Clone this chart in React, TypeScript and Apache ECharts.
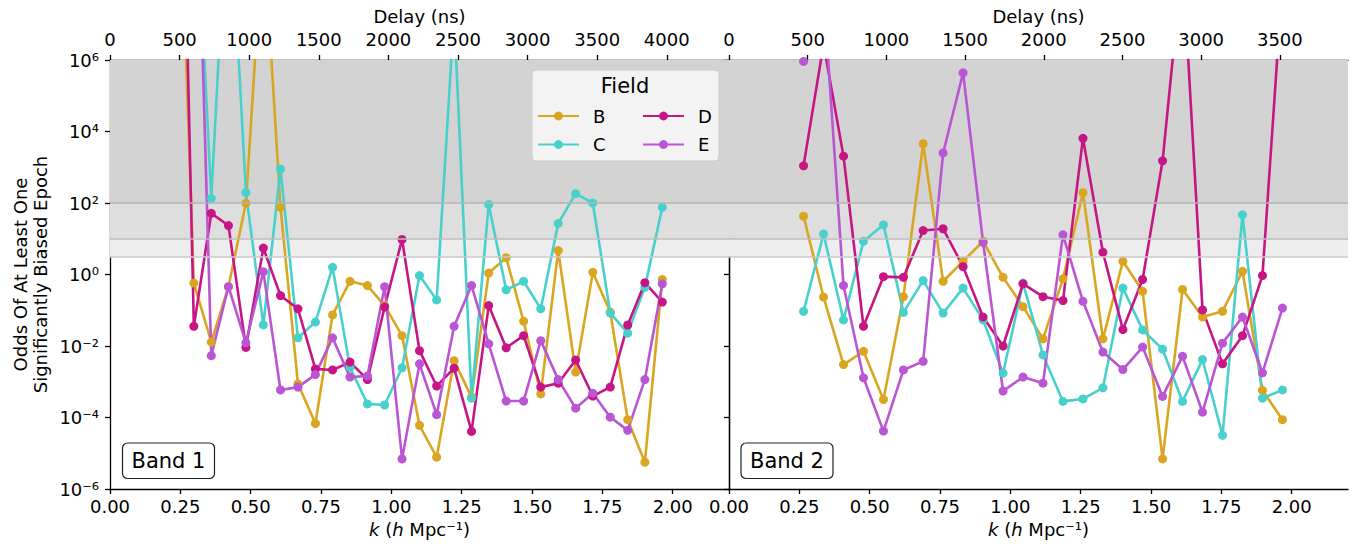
import React, { useEffect, useRef } from 'react';
import * as echarts from 'echarts';

const FONT = 'DejaVu Sans';

const FIELDS = ['B', 'C', 'D', 'E'];
const COLORS: Record<string, string> = { B: '#DAA520', C: '#48D1CC', D: '#C71585', E: '#BA55D3' };

// Band 1: k values (h Mpc^-1) and log10(odds) per field
const kBand1 = [0.236, 0.298, 0.360, 0.421, 0.483, 0.545, 0.606, 0.668, 0.730, 0.791, 0.853, 0.915, 0.976, 1.038, 1.100, 1.161, 1.223, 1.285, 1.346, 1.408, 1.470, 1.531, 1.593, 1.655, 1.716, 1.778, 1.840, 1.901, 1.963];
const logB1 = [13.9, -0.24, -1.89, -0.34, 1.99, 9.7, 1.88, -3.06, -4.17, -1.13, -0.19, -0.31, -0.87, -1.71, -4.22, -5.11, -2.41, -3.43, 0.04, 0.47, -1.31, -3.34, 0.67, -2.73, 0.06, -1.05, -4.06, -5.25, -0.14];
const logC1 = [null, 12, 2.13, 11.3, 2.3, -1.41, 2.95, -1.77, -1.33, 0.2, -2.6, -3.62, -3.65, -2.61, -0.03, -0.71, 7.3, -3.46, 1.96, -0.43, -0.19, -0.96, 1.43, 2.26, 2.0, -1.08, -1.64, -0.36, 1.88];
const logD1 = [20, -1.45, 1.71, 1.37, -2.04, 0.74, -0.59, -0.96, -2.64, -2.67, -2.45, -2.94, -0.91, 0.98, -2.13, -3.12, -2.62, -4.39, -0.87, -2.05, -1.71, -3.15, -3.04, -2.39, -3.4, -3.15, -1.41, -0.23, -0.77];
const logE1 = [null, 14.6, -2.27, -0.34, -1.91, 0.08, -3.23, -3.15, -2.8, -1.77, -2.87, -2.84, -0.34, -5.16, -2.5, -3.92, -1.45, -0.31, -1.94, -3.54, -3.54, -1.85, -2.94, -3.74, -3.32, -3.99, -4.36, -2.94, -0.26];

// Band 2
const kBand2 = [0.265, 0.336, 0.407, 0.478, 0.549, 0.620, 0.690, 0.761, 0.832, 0.903, 0.974, 1.045, 1.116, 1.187, 1.258, 1.329, 1.400, 1.470, 1.541, 1.612, 1.683, 1.754, 1.825, 1.896, 1.967];
const logB2 = [1.63, -0.63, -2.52, -2.15, -3.5, -0.62, 3.66, -0.19, 0.37, 0.93, -0.08, -0.9, -1.8, -0.12, 2.29, -1.8, 0.37, -0.47, -5.16, -0.42, -1.19, -1.03, 0.09, -3.24, -4.06];
const logC2 = [-1.03, 1.13, -1.27, 0.93, 1.39, -1.06, -0.17, -1.08, -0.38, -1.27, -2.76, -0.24, -2.25, -3.55, -3.48, -3.17, -0.38, -1.55, -2.09, -3.55, -2.38, -4.5, 1.67, -3.46, -3.23];
const logD2 = [3.04, 6.44, 3.31, -1.45, -0.06, -0.08, 1.23, 1.28, 0.22, -1.19, -2.0, -0.26, -0.62, -0.73, 3.81, 0.62, -1.54, -0.14, 3.18, 8.8, -0.99, -2.5, -1.71, -0.03, 8.2];
const logE2 = [5.96, 7.9, -0.31, -2.89, -4.38, -2.67, -2.43, 3.4, 5.64, 0.9, -3.26, -2.87, -3.04, 1.11, -0.75, -2.17, -2.66, -2.03, -3.41, -2.29, -3.85, -1.92, -1.19, -2.75, -0.94];

// Axis tick values
const kTicks = [0, 0.25, 0.5, 0.75, 1.0, 1.25, 1.5, 1.75, 2.0];
const delayTicks1 = [0, 500, 1000, 1500, 2000, 2500, 3000, 3500, 4000];
const delayTicks2 = [0, 500, 1000, 1500, 2000, 2500, 3000, 3500];
const delayMax1 = 4447;
const delayMax2 = 3933;

// Jeffreys-scale thresholds for the shaded bands
const thresholds = [3.16, 10, 100];
const shadeColors = ['#ecedec', '#dedede', '#d3d3d3'];
const thresholdLineColors = ['#c8c8c8', '#bdbdbd', '#b3b3b3'];

const SUP: Record<string, string> = { '0': '⁰', '1': '¹', '2': '²', '3': '³', '4': '⁴', '5': '⁵', '6': '⁶', '7': '⁷', '8': '⁸', '9': '⁹', '-': '⁻' };
const supText = (n: number) => String(n).split('').map((c) => SUP[c] || c).join('');

const toPairs = (ks: number[], logs: (number | null)[]) =>
  ks.map((k, i) => [k, logs[i] == null ? null : Math.pow(10, logs[i] as number)]);

export default function App() {
  const ref = useRef<HTMLDivElement>(null);

  useEffect(() => {
    if (!ref.current) return;
    const chart = echarts.init(ref.current, undefined, { renderer: 'svg' });

    const axisLine = { show: true, lineStyle: { color: '#000', width: 1.3 } };
    const axisTick = { show: true, length: 5, inside: false, lineStyle: { color: '#000', width: 1.3 } };
    const labelStyle = { fontFamily: FONT, fontSize: 18, color: '#000' };

    const bandData = [
      { B: logB1, C: logC1, D: logD1, E: logE1, k: kBand1 },
      { B: logB2, C: logC2, D: logD2, E: logE2, k: kBand2 },
    ];

    const series: any[] = [];
    [0, 1].forEach((g) => {
      series.push({
        type: 'line',
        name: 'shade' + g,
        xAxisIndex: g,
        yAxisIndex: g,
        data: [],
        z: 1,
        silent: true,
        markArea: {
          silent: true,
          data: [
            [{ yAxis: thresholds[2], itemStyle: { color: shadeColors[2] } }, { yAxis: 1e6 }],
            [{ yAxis: thresholds[1], itemStyle: { color: shadeColors[1] } }, { yAxis: thresholds[2] }],
            [{ yAxis: thresholds[0], itemStyle: { color: shadeColors[0] } }, { yAxis: thresholds[1] }],
          ],
        },
        markLine: {
          silent: true,
          symbol: ['none', 'none'],
          label: { show: false },
          data: thresholds.map((t, i) => ({ yAxis: t, lineStyle: { color: thresholdLineColors[i], width: 1.5, type: 'solid' } })),
        },
      });
      const bd: any = bandData[g];
      FIELDS.forEach((f) => {
        series.push({
          type: 'line',
          name: f,
          xAxisIndex: g,
          yAxisIndex: g,
          data: toPairs(bd.k, bd[f]),
          z: 3,
          clip: true,
          symbol: 'circle',
          symbolSize: 9,
          showAllSymbol: true,
          color: COLORS[f],
          lineStyle: { width: 2.6, color: COLORS[f] },
          itemStyle: { color: COLORS[f] },
          emphasis: { disabled: true },
        });
      });
    });

    const kAxis = (g: number) => ({
      type: 'value',
      gridIndex: g,
      position: 'bottom',
      min: 0,
      max: 2.2,
      name: '{i|k} ({i|h} Mpc⁻¹)',
      nameLocation: 'middle',
      nameGap: 31,
      nameTextStyle: {
        fontFamily: FONT,
        fontSize: 18,
        color: '#000',
        rich: { i: { fontFamily: FONT, fontSize: 18, fontStyle: 'italic', color: '#000' } },
      },
      axisLine,
      axisTick: { ...axisTick, customValues: kTicks },
      axisLabel: { ...labelStyle, margin: 8, customValues: kTicks, formatter: (v: number) => v.toFixed(2) },
      splitLine: { show: false },
    });

    const delayAxis = (g: number, max: number, ticks: number[]) => ({
      type: 'value',
      gridIndex: g,
      position: 'top',
      min: 0,
      max,
      name: 'Delay (ns)',
      nameLocation: 'middle',
      nameGap: 35,
      nameTextStyle: { fontFamily: FONT, fontSize: 18, color: '#000' },
      axisLine,
      axisTick: { ...axisTick, customValues: ticks },
      axisLabel: { ...labelStyle, margin: 12, customValues: ticks, formatter: (v: number) => String(Math.round(v)) },
      splitLine: { show: false },
    });

    const option: any = {
      animation: false,
      backgroundColor: '#ffffff',
      textStyle: { fontFamily: FONT },
      grid: [
        { left: 110, top: 60, width: 619, height: 429 },
        { left: 729, top: 60, width: 619, height: 429 },
      ],
      xAxis: [kAxis(0), kAxis(1), delayAxis(0, delayMax1, delayTicks1), delayAxis(1, delayMax2, delayTicks2)],
      yAxis: [
        {
          type: 'log',
          gridIndex: 0,
          logBase: 10,
          min: 1e-6,
          max: 1e6,
          interval: 2,
          name: 'Odds Of At Least One\nSignificantly Biased Epoch',
          nameLocation: 'middle',
          nameGap: 60,
          nameTextStyle: { fontFamily: FONT, fontSize: 18, color: '#000', lineHeight: 20 },
          axisLine,
          axisTick,
          axisLabel: {
            ...labelStyle,
            margin: 11,
            formatter: (v: number) => '10' + supText(Math.round(Math.log10(v))),
          },
          splitLine: { show: false },
        },
        {
          type: 'log',
          gridIndex: 1,
          logBase: 10,
          min: 1e-6,
          max: 1e6,
          interval: 2,
          axisLine,
          axisTick,
          axisLabel: { show: false },
          splitLine: { show: false },
        },
        {
          type: 'log',
          gridIndex: 1,
          position: 'right',
          logBase: 10,
          min: 1e-6,
          max: 1e6,
          interval: 2,
          axisLine,
          axisTick: { show: false },
          axisLabel: { show: false },
          splitLine: { show: false },
        },
      ],
      legend: [
        { name: 'B', left: 537, top: 107 },
        { name: 'C', left: 537, top: 135.5 },
        { name: 'D', left: 642, top: 107 },
        { name: 'E', left: 642, top: 135.5 },
      ].map((l) => ({
        data: [l.name],
        left: l.left,
        top: l.top,
        padding: 0,
        itemWidth: 41,
        itemHeight: 11,
        z: 20,
        selectedMode: false,
        textStyle: { fontFamily: FONT, fontSize: 18, color: '#000', padding: [0, 0, 0, 9] },
      })),
      graphic: [
        {
          type: 'rect',
          z: 10,
          shape: { x: 532, y: 70, width: 187, height: 91, r: 4 },
          style: { fill: 'rgba(245,245,245,0.92)', stroke: '#cccccc', lineWidth: 1 },
        },
        {
          type: 'text',
          z: 11,
          x: 625,
          y: 86,
          style: { text: 'Field', fontFamily: FONT, fontSize: 21, fill: '#000', align: 'center', verticalAlign: 'middle', textAlign: 'center', textVerticalAlign: 'middle' },
        },
        {
          type: 'rect',
          z: 10,
          shape: { x: 122.5, y: 443, width: 92, height: 35.5, r: 5 },
          style: { fill: '#ffffff', stroke: '#222222', lineWidth: 1.2 },
        },
        {
          type: 'text',
          z: 11,
          x: 168.5,
          y: 461,
          style: { text: 'Band 1', fontFamily: FONT, fontSize: 21, fill: '#000', align: 'center', verticalAlign: 'middle', textAlign: 'center', textVerticalAlign: 'middle' },
        },
        {
          type: 'rect',
          z: 10,
          shape: { x: 741, y: 443, width: 92, height: 35.5, r: 5 },
          style: { fill: '#ffffff', stroke: '#222222', lineWidth: 1.2 },
        },
        {
          type: 'text',
          z: 11,
          x: 787,
          y: 461,
          style: { text: 'Band 2', fontFamily: FONT, fontSize: 21, fill: '#000', align: 'center', verticalAlign: 'middle', textAlign: 'center', textVerticalAlign: 'middle' },
        },
      ],
      series,
    };

    chart.setOption(option);
    return () => chart.dispose();
  }, []);

  return <div ref={ref} style={{ position: 'fixed', left: 0, top: 0, width: 1367, height: 546 }} />;
}
